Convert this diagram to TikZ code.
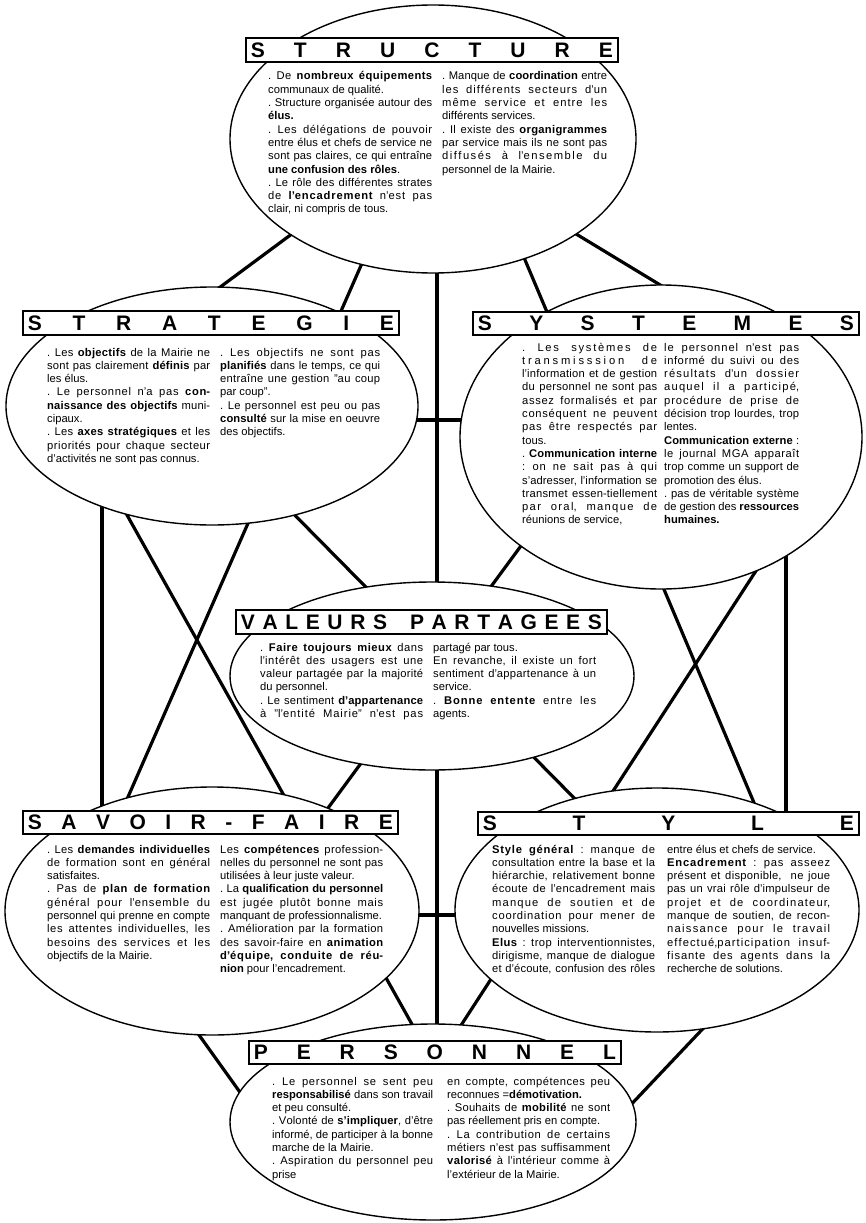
\documentclass[tikz,border=0pt]{standalone}
\usepackage{fontspec}
\setmainfont{Liberation Sans}
\usetikzlibrary{shapes.geometric}

% letters get a little stretchable glue between them, so that justified
% lines are spread over the letters as well as over the spaces
\newcount\chcode
\chcode="41 \loop \XeTeXcharclass\chcode=1 \ifnum\chcode<"5A \advance\chcode 1 \repeat
\chcode="61 \loop \XeTeXcharclass\chcode=1 \ifnum\chcode<"7A \advance\chcode 1 \repeat
\chcode="C0 \loop \XeTeXcharclass\chcode=1 \ifnum\chcode<"FF \advance\chcode 1 \repeat
\XeTeXinterchartoks 1 1 = {\hskip 0pt plus 0.3pt\relax}

% one justified line / one line at natural width
\newcommand\jline[1]{\hbox to \hsize{#1}}
\newcommand\rline[1]{\hbox{#1}}
% a column of text: width, lines
\newcommand\txtcol[2]{\vtop{\XeTeXinterchartokenstate=1 \hsize=#1pt\relax\fontsize{11.2}{13.3}\selectfont\frenchspacing\baselineskip=13.3pt\relax #2}}
% spaced capitals in a title box
\newcommand\ttl[2]{\hbox to #1pt{#2}}
\hbadness=10000 \hfuzz=20pt

\tikzset{
  link/.style={line width=3.2pt},
  blob/.style={ellipse, draw, line width=1.4pt, fill=white, inner sep=0pt},
  titlebox/.style={draw, line width=1.8pt, fill=white, inner sep=0pt, anchor=north west,
    font=\fontsize{21}{21}\selectfont\bfseries},
  body/.style={inner sep=0pt, anchor=base west},
}

\begin{document}
\begin{tikzpicture}[x=1pt,y=-1pt]
\fill[white] (0,0) rectangle (866,1223);
\useasboundingbox (0,0) rectangle (866,1223);

% ---- ends of the connecting lines (inside the ellipses) ----
\coordinate (su-sg) at (308,222);   \coordinate (sg-su) at (200,302);
\coordinate (su-sf) at (370,245);   \coordinate (sf-su) at (113.5,830);
\coordinate (su-pe) at (437,240);   \coordinate (pe-su) at (437,1060);
\coordinate (su-sy) at (553,220);   \coordinate (sy-su) at (685,300);
\coordinate (su-st) at (516.6,240); \coordinate (st-su) at (765.5,830);
\coordinate (sg-sy) at (380,420);   \coordinate (sy-sg) at (500,420);
\coordinate (sg-st) at (270,490);   \coordinate (st-sg) at (605.7,830);
\coordinate (sg-sf) at (102,480);   \coordinate (sf-sg) at (102,840);
\coordinate (sg-pe) at (113,490);   \coordinate (pe-sg) at (432,1060);
\coordinate (sy-sf) at (540,520);   \coordinate (sf-sy) at (304.5,840);
\coordinate (sy-st) at (786,520);   \coordinate (st-sy) at (786,850);
\coordinate (sy-pe) at (776,540);   \coordinate (pe-sy) at (438.5,1060);
\coordinate (sf-st) at (380,915);   \coordinate (st-sf) at (500,915);
\coordinate (sf-pe) at (174,1000);  \coordinate (pe-sf) at (267,1130);
\coordinate (st-pe) at (730,1000);  \coordinate (pe-st) at (607,1130);

\draw[link] (su-sg) -- (sg-su);
\draw[link] (su-sf) -- (sf-su);
\draw[link] (su-pe) -- (pe-su);
\draw[link] (su-sy) -- (sy-su);
\draw[link] (su-st) -- (st-su);
\draw[link] (sg-sy) -- (sy-sg);
\draw[link] (sg-st) -- (st-sg);
\draw[link] (sg-sf) -- (sf-sg);
\draw[link] (sg-pe) -- (pe-sg);
\draw[link] (sy-sf) -- (sf-sy);
\draw[link] (sy-st) -- (st-sy);
\draw[link] (sy-pe) -- (pe-sy);
\draw[link] (sf-st) -- (st-sf);
\draw[link] (sf-pe) -- (pe-sf);
\draw[link] (st-pe) -- (pe-st);

% ---- the seven ellipses ----
\node[blob, minimum width=406pt, minimum height=268pt] (structure) at (433,139) {};
\node[blob, minimum width=412pt, minimum height=238pt] (strategie) at (212,406) {};
\node[blob, minimum width=402pt, minimum height=304pt] (systemes) at (661,437) {};
\node[blob, minimum width=404pt, minimum height=188pt] (valeurs) at (432,676) {};
\node[blob, minimum width=414pt, minimum height=248pt] (savoir) at (212,911) {};
\node[blob, minimum width=404pt, minimum height=244pt] (style) at (657,910) {};
\node[blob, minimum width=406pt, minimum height=196pt] (personnel) at (433,1122) {};

% ---- title boxes ----
\node[titlebox, minimum width=372pt, minimum height=24pt] (structure-t) at (245,37)
  {\ttl{362}{S\hfill T\hfill R\hfill U\hfill C\hfill T\hfill U\hfill R\hfill E}};
\node[titlebox, minimum width=376pt, minimum height=24pt] (strategie-t) at (22,310)
  {\ttl{366}{S\hfill T\hfill R\hfill A\hfill T\hfill E\hfill G\hfill I\hfill E}};
\node[titlebox, minimum width=386pt, minimum height=23pt] (systemes-t) at (472,311)
  {\ttl{376}{S\hfill Y\hfill S\hfill T\hfill E\hfill M\hfill E\hfill S}};
\node[titlebox, minimum width=371pt, minimum height=24pt] (valeurs-t) at (235,609)
  {\ttl{361}{V\hfill A\hfill L\hfill E\hfill U\hfill R\hfill S\hfill\hfill\hfill P\hfill A\hfill R\hfill T\hfill A\hfill G\hfill E\hfill E\hfill S}};
\node[titlebox, minimum width=375pt, minimum height=23pt] (savoir-t) at (22,810)
  {\ttl{365}{S\hfill A\hfill V\hfill O\hfill I\hfill R\hfill -\hfill F\hfill A\hfill I\hfill R\hfill E}};
\node[titlebox, minimum width=381pt, minimum height=23pt] (style-t) at (477,811)
  {\ttl{371}{S\hfill T\hfill Y\hfill L\hfill E}};
\node[titlebox, minimum width=372pt, minimum height=23pt] (personnel-t) at (248,1040)
  {\ttl{362}{P\hfill E\hfill R\hfill S\hfill O\hfill N\hfill N\hfill E\hfill L}};

% ---- texts ----
\node[body] (structure-l) at (268,80) {\txtcol{164}{
\jline{. De \textbf{nombreux équipements}}
\rline{communaux de qualité.}
\jline{. Structure organisée autour des}
\rline{\textbf{élus.}}
\jline{. Les délégations de pouvoir}
\jline{entre élus et chefs de service ne}
\jline{sont pas claires, ce qui entraîne}
\rline{\textbf{une confusion des rôles}.}
\jline{. Le rôle des différentes strates}
\jline{de \textbf{l'encadrement} n'est pas}
\rline{clair, ni compris de tous.}}};
\node[body] (structure-r) at (442,80) {\txtcol{165}{
\jline{. Manque de \textbf{coordination} entre}
\jline{les différents secteurs d'un}
\jline{même service et entre les}
\rline{différents services.}
\jline{. Il existe des \textbf{organigrammes}}
\jline{par service mais ils ne sont pas}
\jline{diffusés à l'ensemble du}
\rline{personnel de la Mairie.}}};

\node[body] (strategie-l) at (47,356) {\txtcol{163}{
\jline{. Les \textbf{objectifs} de la Mairie ne}
\jline{sont pas clairement \textbf{définis} par}
\rline{les élus.}
\jline{. Le personnel n'a pas \textbf{con-}}
\jline{\textbf{naissance des objectifs} muni-}
\rline{cipaux.}
\jline{. Les \textbf{axes stratégiques} et les}
\jline{priorités pour chaque secteur}
\rline{d'activités ne sont pas connus.}}};
\node[body] (strategie-r) at (220,356) {\txtcol{160}{
\jline{. Les objectifs ne sont pas}
\jline{\textbf{planifiés} dans le temps, ce qui}
\jline{entraîne une gestion "au coup}
\rline{par coup".}
\jline{. Le personnel est peu ou pas}
\jline{\textbf{consulté} sur la mise en oeuvre}
\rline{des objectifs.}}};

\node[body] (systemes-l) at (522,351) {\txtcol{135}{
\jline{. Les systèmes de}
\jline{transmisssion de}
\jline{l'information et de gestion}
\jline{du personnel ne sont pas}
\jline{assez formalisés et par}
\jline{conséquent ne peuvent}
\jline{pas être respectés par}
\rline{tous.}
\jline{. \textbf{Communication interne}}
\jline{: on ne sait pas à qui}
\jline{s'adresser, l'information se}
\jline{transmet essen-tiellement}
\jline{par oral, manque de}
\rline{réunions de service,}}};
\node[body] (systemes-r) at (664,351) {\txtcol{135}{
\jline{le personnel n'est pas}
\jline{informé du suivi ou des}
\jline{résultats d'un dossier}
\jline{auquel il a participé,}
\jline{procédure de prise de}
\jline{décision trop lourdes, trop}
\rline{lentes.}
\jline{\textbf{Communication externe} :}
\jline{le journal MGA apparaît}
\jline{trop comme un support de}
\rline{promotion des élus.}
\jline{. pas de véritable système}
\jline{de gestion des \textbf{ressources}}
\rline{\textbf{humaines.}}}};

\node[body] (valeurs-l) at (260,651) {\txtcol{163}{
\jline{. \textbf{Faire toujours mieux} dans}
\jline{l'intérêt des usagers est une}
\jline{valeur partagée par la majorité}
\rline{du personnel.}
\jline{. Le sentiment \textbf{d'appartenance}}
\jline{à "l'entité Mairie" n'est pas}}};
\node[body] (valeurs-r) at (433,651) {\txtcol{163}{
\rline{partagé par tous.}
\jline{En revanche, il existe un fort}
\jline{sentiment d'appartenance à un}
\rline{service.}
\jline{. \textbf{Bonne entente} entre les}
\rline{agents.}}};

\node[body] (savoir-l) at (47,853) {\txtcol{163}{
\jline{. Les \textbf{demandes individuelles}}
\jline{de formation sont en général}
\rline{satisfaites.}
\jline{. Pas de \textbf{plan de formation}}
\jline{général pour l'ensemble du}
\jline{personnel qui prenne en compte}
\jline{les attentes individuelles, les}
\jline{besoins des services et les}
\rline{objectifs de la Mairie.}}};
\node[body] (savoir-r) at (220,853) {\txtcol{163}{
\jline{Les \textbf{compétences} profession-}
\jline{nelles du personnel ne sont pas}
\rline{utilisées à leur juste valeur.}
\jline{. La \textbf{qualification du personnel}}
\jline{est jugée plutôt bonne mais}
\rline{manquant de professionnalisme.}
\jline{. Amélioration par la formation}
\jline{des savoir-faire en \textbf{animation}}
\jline{\textbf{d'équipe, conduite de réu-}}
\rline{\textbf{nion} pour l'encadrement.}}};

\node[body] (style-l) at (492,853) {\txtcol{163}{
\jline{\textbf{Style général} : manque de}
\jline{consultation entre la base et la}
\jline{hiérarchie, relativement bonne}
\jline{écoute de l'encadrement mais}
\jline{manque de soutien et de}
\jline{coordination pour mener de}
\rline{nouvelles missions.}
\jline{\textbf{Elus} : trop interventionnistes,}
\jline{dirigisme, manque de dialogue}
\jline{et d'écoute, confusion des rôles}}};
\node[body] (style-r) at (667,853) {\txtcol{163}{
\rline{entre élus et chefs de service.}
\jline{\textbf{Encadrement} : pas asseez}
\jline{présent et disponible,\ \ ne joue}
\jline{pas un vrai rôle d'impulseur de}
\jline{projet et de coordinateur,}
\jline{manque de soutien, de recon-}
\jline{naissance pour le travail}
\jline{effectué,participation insuf-}
\jline{fisante des agents dans la}
\rline{recherche de solutions.}}};

\node[body] (personnel-l) at (272,1085) {\txtcol{161}{
\jline{. Le personnel se sent peu}
\jline{\textbf{responsabilisé} dans son travail}
\rline{et peu consulté.}
\jline{. Volonté de \textbf{s'impliquer}, d'être}
\jline{informé, de participer à la bonne}
\rline{marche de la Mairie.}
\jline{. Aspiration du personnel peu}
\rline{prise}}};
\node[body] (personnel-r) at (447,1085) {\txtcol{163}{
\jline{en compte, compétences peu}
\rline{reconnues =\textbf{démotivation.}}
\jline{. Souhaits de \textbf{mobilité} ne sont}
\rline{pas réellement pris en compte.}
\jline{. La contribution de certains}
\jline{métiers n'est pas suffisamment}
\jline{\textbf{valorisé} à l'intérieur comme à}
\rline{l'extérieur de la Mairie.}}};
\end{tikzpicture}
\end{document}
